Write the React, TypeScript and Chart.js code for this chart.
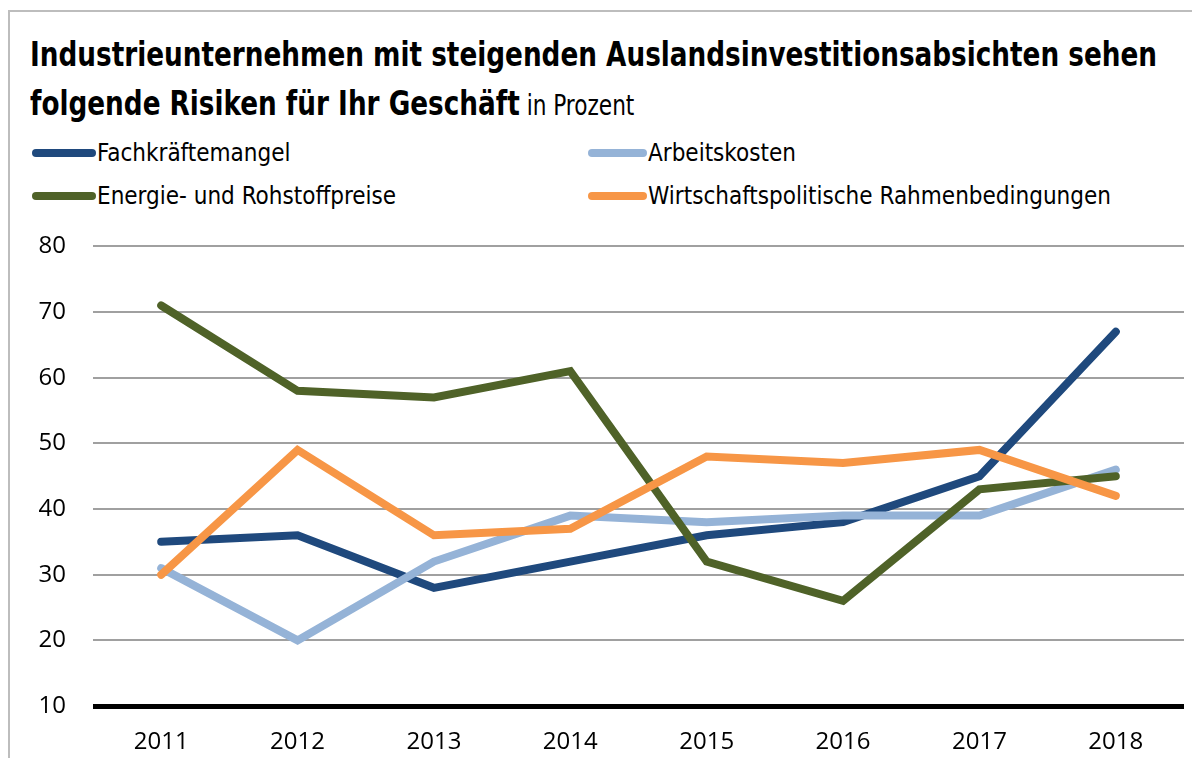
import React, { useEffect, useLayoutEffect, useRef } from "react";
import { Chart, registerables } from "chart.js";

Chart.register(...registerables);

const years = ["2011", "2012", "2013", "2014", "2015", "2016", "2017", "2018"];
const fachkraefte = [35, 36, 28, 32, 36, 38, 45, 67];
const arbeitskosten = [31, 20, 32, 39, 38, 39, 39, 46];
const energie = [71, 58, 57, 61, 32, 26, 43, 45];
const wirtschaft = [30, 49, 36, 37, 48, 47, 49, 42];
const seriesNames = [
  "Fachkräftemangel",
  "Arbeitskosten",
  "Energie- und Rohstoffpreise",
  "Wirtschaftspolitische Rahmenbedingungen",
];
const seriesColors = ["#1F497D", "#95B3D7", "#4F6228", "#F79646"];
const seriesData = [fachkraefte, arbeitskosten, energie, wirtschaft];
const seriesOrder = [4, 3, 2, 1];
const yTicks = [10, 20, 30, 40, 50, 60, 70, 80];

const titleLine1 = "Industrieunternehmen mit steigenden Auslandsinvestitionsabsichten sehen";
const titleLine2 = "folgende Risiken für Ihr Geschäft";
const titleUnit = "in Prozent";

const TITLE_FONT = '"DejaVu Sans Condensed", "Noto Sans", sans-serif';
const TEXT_FONT = '"Open Sans", "Noto Sans", sans-serif';
const TITLE_TARGET_WIDTH = 1127;

export default function App() {
  const canvasRef = useRef<HTMLCanvasElement | null>(null);
  const titleRef = useRef<HTMLDivElement | null>(null);
  const line1Ref = useRef<HTMLSpanElement | null>(null);

  useLayoutEffect(() => {
    const t = titleRef.current;
    const l1 = line1Ref.current;
    if (!t || !l1) return;
    const w = l1.getBoundingClientRect().width;
    if (w > 0) {
      t.style.transform = `scaleX(${TITLE_TARGET_WIDTH / w})`;
    }
  }, []);

  useEffect(() => {
    const canvas = canvasRef.current;
    if (!canvas) return;
    const chart = new Chart(canvas, {
      type: "line",
      data: {
        labels: years,
        datasets: seriesData.map((d, i) => ({
          label: seriesNames[i],
          data: d,
          borderColor: seriesColors[i],
          backgroundColor: seriesColors[i],
          borderWidth: 8,
          borderCapStyle: "round",
          borderJoinStyle: "miter",
          pointRadius: 0,
          tension: 0,
          fill: false,
          order: seriesOrder[i],
        })),
      },
      options: {
        animation: false,
        responsive: true,
        maintainAspectRatio: false,
        layout: { padding: { top: 0, right: 16, left: 0, bottom: 0 } },
        plugins: {
          legend: { display: false },
          title: { display: false },
          tooltip: { enabled: false },
        },
        scales: {
          x: {
            offset: true,
            grid: { display: false, drawTicks: false },
            border: { display: false },
            ticks: {
              color: "#000",
              padding: 22,
              font: { family: TEXT_FONT, size: 24 },
            },
            afterFit: (scale: any) => {
              scale.height = 52;
            },
          },
          y: {
            min: 10,
            max: 80,
            afterBuildTicks: (scale: any) => {
              scale.ticks = yTicks.map((v) => ({ value: v }));
            },
            grid: {
              drawTicks: false,
              color: (ctx: any) => (ctx.tick && ctx.tick.value === 10 ? "#000" : "#a0a0a0"),
              lineWidth: (ctx: any) => (ctx.tick && ctx.tick.value === 10 ? 5 : 2),
            },
            border: { display: false },
            ticks: {
              color: "#000",
              padding: 27,
              font: { family: TEXT_FONT, size: 24 },
            },
            afterFit: (scale: any) => {
              scale.width = 85;
            },
          },
        },
      },
    });
    return () => chart.destroy();
  }, []);

  return (
    <div
      style={{
        position: "relative",
        width: 1192,
        height: 750,
        overflow: "hidden",
        fontFamily: TEXT_FONT,
        color: "#000",
      }}
    >
      <div
        style={{
          position: "absolute",
          left: 0,
          top: 2,
          width: 1300,
          height: 900,
          borderTop: "2px solid #bdbdbd",
          borderLeft: "2px solid #bdbdbd",
        }}
      />
      <div
        ref={titleRef}
        style={{
          position: "absolute",
          left: 22,
          top: 22,
          fontFamily: TITLE_FONT,
          fontWeight: 700,
          fontSize: 34,
          lineHeight: "49px",
          whiteSpace: "nowrap",
          transformOrigin: "0 0",
        }}
      >
        <div>
          <span ref={line1Ref}>{titleLine1}</span>
        </div>
        <div>
          {titleLine2}
          <span style={{ fontWeight: 400, fontSize: 28 }}> {titleUnit}</span>
        </div>
      </div>
      {seriesNames.map((name, i) => {
        const col = i % 2;
        const row = Math.floor(i / 2);
        return (
          <div
            key={name}
            style={{
              position: "absolute",
              left: col === 0 ? 24 : 580,
              top: (row === 0 ? 145 : 188) - 16,
              height: 32,
              display: "flex",
              alignItems: "center",
              whiteSpace: "nowrap",
              fontFamily: TITLE_FONT,
              fontSize: 24,
            }}
          >
            <span
              style={{
                display: "inline-block",
                width: col === 0 ? 64 : 59,
                height: 8,
                borderRadius: 4,
                background: seriesColors[i],
                marginRight: 1,
              }}
            />
            <span>{name}</span>
          </div>
        );
      })}
      <div style={{ position: "absolute", left: 0, top: 197, width: 1192, height: 553 }}>
        <canvas ref={canvasRef} />
      </div>
    </div>
  );
}
